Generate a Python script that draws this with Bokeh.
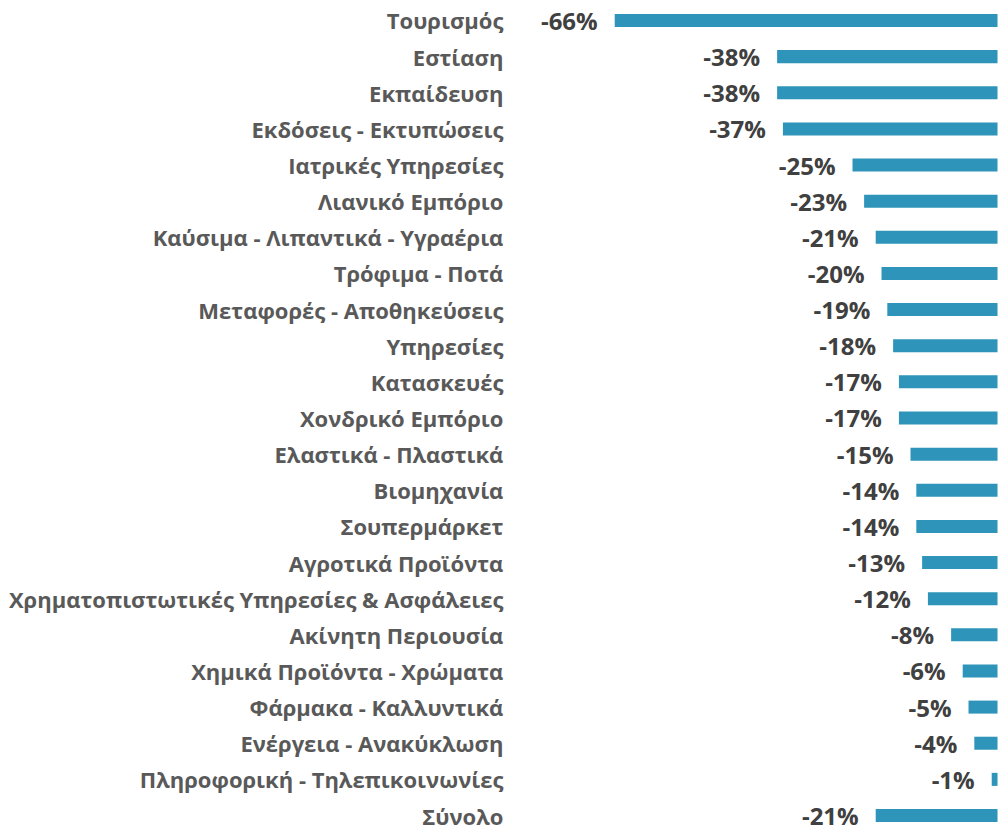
from bokeh.plotting import figure
from bokeh.models import Range1d, ColumnDataSource
from bokeh.core.properties import value
from bokeh.embed import file_html
from bokeh.resources import INLINE

categories = [
    "Τουρισμός", "Εστίαση", "Εκπαίδευση", "Εκδόσεις - Εκτυπώσεις",
    "Ιατρικές Υπηρεσίες", "Λιανικό Εμπόριο", "Καύσιμα - Λιπαντικά - Υγραέρια",
    "Τρόφιμα - Ποτά", "Μεταφορές - Αποθηκεύσεις", "Υπηρεσίες", "Κατασκευές",
    "Χονδρικό Εμπόριο", "Ελαστικά - Πλαστικά", "Βιομηχανία", "Σουπερμάρκετ",
    "Αγροτικά Προϊόντα", "Χρηματοπιστωτικές Υπηρεσίες & Ασφάλειες",
    "Ακίνητη Περιουσία", "Χημικά Προϊόντα - Χρώματα", "Φάρμακα - Καλλυντικά",
    "Ενέργεια - Ανακύκλωση", "Πληροφορική - Τηλεπικοινωνίες", "Σύνολο",
]
values = [-66, -38, -38, -37, -25, -23, -21, -20, -19, -18, -17, -17, -15,
          -14, -14, -13, -12, -8, -6, -5, -4, -1, -21]
value_labels = [f"{v}%" for v in values]

pos = list(range(len(categories)))
src = ColumnDataSource(dict(cat=categories, val=values, lab=value_labels,
                            y=pos, zero=[0] * len(pos),
                            labx=[-85.2] * len(pos)))

# rows: first centre ~20px, last ~815px from top (36.14 px per row)
p = figure(width=998, height=833, output_backend="svg", toolbar_location=None,
           x_range=Range1d(-171.9, 0.17), y_range=Range1d(22.498, -0.553),
           min_border=0, outline_line_color=None)
p.axis.visible = False
p.grid.visible = False

p.hbar(y="y", left="val", right="zero", height=0.36, source=src,
       fill_color="#2E94B9", line_color=None)

p.text(x="labx", y="y", text="cat", source=src, text_align="right",
       text_baseline="middle", text_font=value("Open Sans"),
       text_font_style="bold", text_font_size="22px", text_color="#595959")

p.text(x="val", y="y", text="lab", source=src, text_align="right",
       text_baseline="middle", x_offset=-17,
       text_font=value("Open Sans"), text_font_style="bold",
       text_font_size="24px", text_color="#404040")

open("out.html", "w").write(file_html(p, INLINE))
